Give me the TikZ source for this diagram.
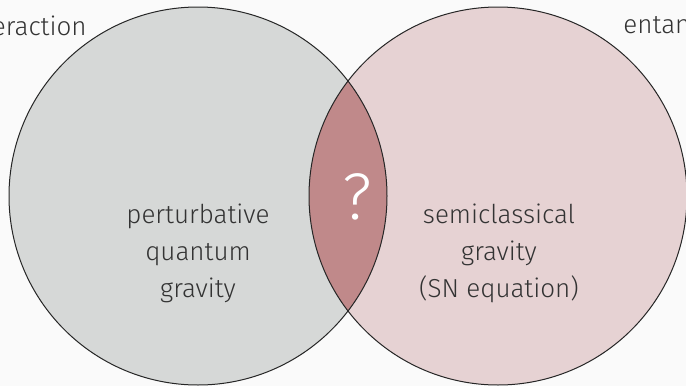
\documentclass[tikz,border=0pt]{standalone}
\usepackage{fontspec}
\IfFontExistsTF{Fira Sans Light}{\setmainfont{Fira Sans Light}}{\setmainfont{Fira Sans}}
\usepackage{tikz}
\usetikzlibrary{positioning}
\definecolor{qgray}{HTML}{D6D8D7}
\definecolor{scpink}{HTML}{E6D2D3}
\definecolor{lensred}{HTML}{C0898A}
\definecolor{bgwhite}{HTML}{FAFAFA}
\definecolor{textgray}{HTML}{333333}

\begin{document}
\begin{tikzpicture}[x=0.5pt, y=-0.5pt,
    venntext/.style={text=textgray, font=\fontsize{13}{18.5}\selectfont, align=center}]
        % Canvas
        \fill[bgwhite] (0,0) rectangle (686,386);
        \useasboundingbox (0,0) rectangle (686,386);
        \clip (0,0) rectangle (686,386);

        % Circles
        \fill[qgray] (198,196) circle[radius=94.5pt];
        \fill[scpink] (498,196) circle[radius=94.5pt];
        \begin{scope}
            \clip (198,196) circle[radius=94.5pt];
            \fill[lensred] (498,196) circle[radius=94.5pt];
        \end{scope}
        \draw[line width=0.5pt, black!85] (198,196) circle[radius=94.5pt];
        \draw[line width=0.5pt, black!85] (498,196) circle[radius=94.5pt];

        % Labels
        \node[venntext] (pqg) at (198,253) {perturbative\\quantum\\gravity};
        \node[venntext] (scg) at (499,253) {semiclassical\\gravity\\(SN equation)};
        \node[text=white, font=\fontsize{33}{33}\selectfont] (qmark) at (357,197) {?};
        \node[venntext, anchor=base east, inner xsep=0pt] (inter) at (87,35) {interaction};
        \node[venntext, anchor=base west, inner xsep=0pt] (entang) at (623,33) {entanglement};
\end{tikzpicture}
\end{document}
